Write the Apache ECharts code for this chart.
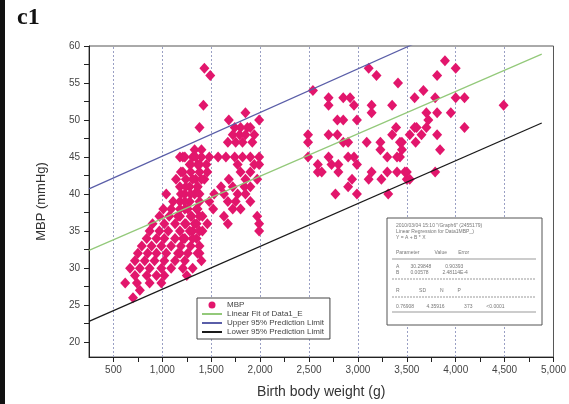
<!DOCTYPE html>
<html><head><meta charset="utf-8">
<script src="https://cdn.jsdelivr.net/npm/echarts@6/dist/echarts.min.js"></script>
<style>html,body{margin:0;padding:0;background:#fff}#c{width:569px;height:404px}</style>
</head><body><div id="c"></div>
<script>
// ---- data ----
const xLabelValues = [500,1000,1500,2000,2500,3000,3500,4000,4500,5000];
const yLabelValues = [20,25,30,35,40,45,50,55,60];
const yTickValues = [20,22.5,25,27.5,30,32.5,35,37.5,40,42.5,45,47.5,50,52.5,55,57.5,60];
const xTickValues = [500,750,1000,1250,1500,1750,2000,2250,2500,2750,3000,3250,3500,3750,4000,4250,4500,4750,5000];

// MBP points [birth weight (g), MBP (mmHg)]
const mbpPoints = [
 [1430,57],[1490,56],[1420,52],[1380,49],[1680,50],[1850,51],[1990,50],
 [1740,49],[1800,49],[1870,49],[1900,49],
 [1720,48],[1790,48],[1850,48],[1940,48],
 [1670,47],[1750,47],[1820,47],[1920,47],
 [1330,46],[1400,46],
 [1210,45],[1310,45],[1400,45],[1480,45],[1570,45],[1650,45],[1740,45],[1820,45],[1900,45],[1990,45],
 [1280,44],[1360,44],[1450,44],[1770,44],[1940,44],[1990,44],
 [1210,43],[1290,43],[1380,43],[1460,43],[1800,43],[1900,43],
 [1240,42],[1340,42],[1430,42],[1680,42],[1850,42],[1970,42],
 [1180,41],[1280,41],[1360,41],[1600,41],[1720,41],[1840,41],[1900,41],
 [1230,40],[1330,40],[1530,40],[1630,40],[1770,40],[1850,40],
 [1180,39],[1280,39],[1380,39],[1480,39],[1670,39],[1750,39],[1900,39],
 [1230,38],[1350,38],[1520,38],[1720,38],[1800,38],
 [1180,37],[1300,37],[1410,37],[1630,37],[1970,37],
 [1240,36],[1350,36],[1460,36],[1670,36],[1990,36],
 [1180,35],[1310,35],[1410,35],[1990,35],
 [1210,34],[1350,34],
 [1180,32],[1380,32],
 [1180,45],[1230,45],[1340,45],
 [1290,44],[1380,44],
 [1190,43],
 [1310,42],[1400,42],[1140,42],
 [1240,41],[1360,41],
 [1040,40],[1190,40],[1290,40],[1380,40],
 [1110,39],[1230,39],
 [1010,38],[1090,38],[1180,38],[1260,38],[1360,38],
 [970,37],[1070,37],[1160,37],[1290,37],[1380,37],
 [900,36],[1020,36],[1130,36],[1230,36],[1330,36],
 [870,35],[970,35],[1060,35],[1280,35],[1380,35],
 [840,34],[940,34],[1020,34],[1130,34],[1230,34],[1310,34],
 [790,33],[890,33],[990,33],[1090,33],[1190,33],[1290,33],[1380,33],
 [750,32],[850,32],[940,32],[1040,32],[1160,32],[1260,32],[1360,32],
 [720,31],[820,31],[920,31],[1020,31],[1130,31],[1230,31],[1400,31],
 [670,30],[770,30],[870,30],[990,30],[1090,30],[1210,30],[1310,30],
 [720,29],[840,29],[940,29],[1020,29],[1250,29],
 [620,28],[740,28],[870,28],[990,28],
 [700,26],[770,27],
 [3110,57],[3190,56],[3410,55],[2540,54],[2700,53],[2700,52],[2850,53],[2920,53],[2960,52],[3140,52],[3140,51],[3350,52],[3580,53],
 [2790,50],[2850,50],[2990,50],
 [2490,48],[2490,47],[2700,48],[2790,48],[2850,47],[2900,47],[3090,47],[3230,47],[3230,46],[3350,48],[3390,49],[3450,47],[3450,46],[3530,48],[3580,49],
 [2490,45],[2700,45],[2900,45],[2960,45],[3300,45],[3400,45],
 [2590,44],[2590,43],[2630,43],[2730,44],[2800,44],[2800,43],[2990,44],[3140,43],[3300,43],[3400,43],[3500,43],[3500,42],
 [2940,42],[3110,42],[3240,42],[2900,41],[2770,40],[2990,40],[3310,40],
 [3890,58],[4000,57],[3810,56],[3670,54],[3790,53],[4000,53],[4090,53],[4490,52],
 [3700,51],[3810,51],[3950,51],[3720,50],[3700,49],[3600,49],[4090,49],
 [3650,48],[3810,48],[3590,47],[3430,47],[3430,45],[3840,46],[3480,43],[3530,42],[3790,43]
];
const fitLine = [[250,32.4],[4880,58.9]];
const upperLimit = [[250,40.7],[4880,68.0]];
const lowerLimit = [[250,22.8],[4880,49.6]];

const FONT = 'Liberation Sans, Arial, sans-serif';
const chart = echarts.init(document.getElementById('c'), null, {renderer:'canvas'});

function tableText(x, y, s) {
  return {type:'text', left:x, top:y, silent:true, z:11,
    style:{text:s, fill:'#777', font:'5px ' + FONT}};
}
function hline(y, dashed) {
  return {type:'line', silent:true, z:11, shape:{x1:392,y1:y,x2:536,y2:y},
    style:{stroke:'#999', lineWidth:1, lineDash: dashed ? [2,1] : null}};
}
const hideSym = {opacity:0};

chart.setOption({
  animation:false,
  backgroundColor:'#fff',
  grid:{left:89, right:14, top:46, bottom:47, show:true, borderColor:'#555', borderWidth:1, backgroundColor:'transparent'},
  xAxis:{
    type:'value', min:250, max:5000,
    name:'Birth body weight (g)', nameLocation:'middle', nameGap:28,
    nameTextStyle:{fontFamily:FONT, fontSize:14, color:'#333'},
    axisLine:{lineStyle:{color:'#222', width:1}},
    axisTick:{show:true, length:5, customValues:xTickValues, lineStyle:{color:'#222'}},
    axisLabel:{customValues:xLabelValues, fontFamily:FONT, fontSize:10, color:'#444', margin:8},
    splitLine:{show:false}
  },
  yAxis:{
    type:'value', min:18, max:60,
    name:'MBP (mmHg)', nameLocation:'middle', nameGap:41, nameRotate:90,
    nameTextStyle:{fontFamily:FONT, fontSize:13, color:'#333'},
    axisLine:{show:true, lineStyle:{color:'#222', width:1}},
    axisTick:{show:true, length:5, customValues:yTickValues, lineStyle:{color:'#222'}},
    axisLabel:{customValues:yLabelValues, fontFamily:FONT, fontSize:10, color:'#444', margin:9},
    splitLine:{show:false}
  },
  legend:{
    orient:'vertical', left:197, top:298, itemGap:1, itemWidth:20, itemHeight:7,
    padding:[3,6,3,4], borderColor:'#444', borderWidth:1, backgroundColor:'#fff',
    textStyle:{fontFamily:FONT, fontSize:8, color:'#444', padding:[0,0,0,0]},
    data:[
      {name:'MBP', icon:'circle'},
      {name:'Linear Fit of Data1_E', itemStyle:hideSym},
      {name:'Upper 95% Prediction Limit', itemStyle:hideSym},
      {name:'Lower 95% Prediction Limit', itemStyle:hideSym}
    ]
  },
  series:[
    {
      name:'grid', type:'line', data:[], silent:true, z:1,
      markLine:{silent:true, symbol:'none', label:{show:false}, z:1,
        lineStyle:{color:'#9aa0c4', type:[2,2], width:1},
        data: xLabelValues.filter(v => v < 5000).map(v => ({xAxis:v}))}
    },
    {
      name:'MBP', type:'scatter', data:mbpPoints, symbol:'diamond', symbolSize:[10,11],
      itemStyle:{color:'#e2166c', opacity:1}, z:6
    },
    {name:'Linear Fit of Data1_E', type:'line', data:fitLine, symbol:'none', clip:true,
      lineStyle:{color:'#93c97a', width:1.2}, itemStyle:{color:'#93c97a'}, z:7},
    {name:'Upper 95% Prediction Limit', type:'line', data:upperLimit, symbol:'none', clip:true,
      lineStyle:{color:'#5a5ea8', width:1.2}, itemStyle:{color:'#5a5ea8'}, z:7},
    {name:'Lower 95% Prediction Limit', type:'line', data:lowerLimit, symbol:'none', clip:true,
      lineStyle:{color:'#1a1a1a', width:1.3}, itemStyle:{color:'#1a1a1a'}, z:7}
  ],
  graphic:[
    {type:'rect', left:0, top:0, shape:{width:5, height:404}, style:{fill:'#111'}, silent:true},
    {type:'text', left:17, top:6, style:{text:'c1', fill:'#111', font:'bold 24px "Liberation Serif", "DejaVu Serif", serif'}},
    {type:'rect', silent:true, z:10, shape:{x:387, y:218, width:155, height:107}, style:{fill:'#fff', stroke:'#555', lineWidth:1}},
    tableText(396,223,'2010/03/04 15:10 "/Graph6" (2455179)'),
    tableText(396,229,'Linear Regression for Data1MBP_)'),
    tableText(396,235,'Y = A + B * X'),
    tableText(396,250,'Parameter           Value        Error'),
    hline(259,false),
    tableText(396,264,'A        30.29848          0.90393'),
    tableText(396,270,'B        0.00578          2.48114E-4'),
    hline(279,true),
    tableText(396,288,'R              SD          N          P'),
    hline(297,true),
    tableText(396,304,'0.76908         4.35916              373          <0.0001'),
    hline(312,false)
  ]
});
</script></body></html>
